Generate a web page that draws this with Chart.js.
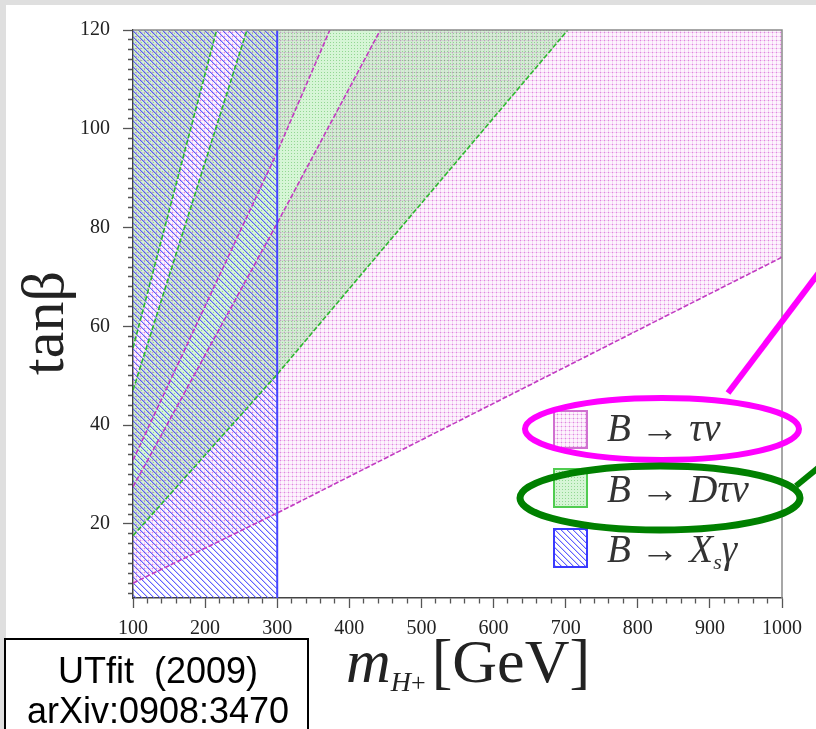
<!DOCTYPE html>
<html>
<head>
<meta charset="utf-8">
<script src="https://cdn.jsdelivr.net/npm/chart.js@4.4.0/dist/chart.umd.min.js"></script>
<style>
  html, body { margin: 0; padding: 0; }
  body { width: 816px; height: 729px; overflow: hidden; position: relative; background: #dfdfdf; }
  #paper { position: absolute; left: 6px; top: 5px; width: 810px; height: 724px; background: #fff; }
  #c { position: absolute; left: 0; top: 0; }
  #ov { position: absolute; left: 0; top: 0; }
  .sw { position: absolute; left: 553px; }
  text { font-family: 'Liberation Serif', 'Times New Roman', serif; fill: #222; }
</style>
</head>
<body>
<div id="paper"></div>
<canvas id="c" width="816" height="729"></canvas>
<canvas class="sw" id="swPink" width="35" height="39" style="top:410px"></canvas>
<canvas class="sw" id="swGreen" width="35" height="40" style="top:468px"></canvas>
<canvas class="sw" id="swBlue" width="35" height="40" style="top:528px"></canvas>
<svg id="ov" width="816" height="729">
  <text transform="translate(63,323) rotate(-90)" text-anchor="middle" font-size="60">tanβ</text>
  <text x="346" y="682" font-size="62"><tspan font-style="italic">m</tspan><tspan font-size="28" font-style="italic" dy="9">H</tspan><tspan font-size="26">+</tspan><tspan dy="-9" dx="6">[GeV]</tspan></text>

  <text x="607" y="441" font-size="39" style="fill:#333"><tspan font-style="italic">B</tspan> → <tspan font-style="italic">τν</tspan></text>
  <text x="607" y="502" font-size="39" style="fill:#333"><tspan font-style="italic">B</tspan> → <tspan font-style="italic">Dτν</tspan></text>
  <text x="607" y="562" font-size="39" style="fill:#333"><tspan font-style="italic">B</tspan> → <tspan font-style="italic">X</tspan><tspan font-style="italic" font-size="22" dy="7">s</tspan><tspan font-style="italic" dy="-7">γ</tspan></text>

  <ellipse cx="662" cy="429" rx="137" ry="31" fill="none" stroke="#ff00ff" stroke-width="6"/>
  <line x1="728" y1="393" x2="830" y2="258" stroke="#ff00ff" stroke-width="6"/>
  <ellipse cx="660" cy="498" rx="140" ry="32" fill="none" stroke="#008000" stroke-width="7"/>
  <line x1="796" y1="486" x2="830" y2="458" stroke="#008000" stroke-width="6"/>

  <rect x="5" y="639" width="303" height="100" fill="#fff" stroke="#000" stroke-width="2"/>
  <text x="158" y="683" font-size="36" text-anchor="middle" style="font-family:'Liberation Sans',Arial,sans-serif;fill:#000;white-space:pre">UTfit  (2009)</text>
  <text x="158" y="723" font-size="36" text-anchor="middle" style="font-family:'Liberation Sans',Arial,sans-serif;fill:#000">arXiv:0908:3470</text>
</svg>
<script>
// axis ranges and labelled ticks
const massMin = 100, massMax = 1000;
const tanBetaMin = 5, tanBetaMax = 120;
const massLabels = [100, 200, 300, 400, 500, 600, 700, 800, 900, 1000];
const tanBetaLabels = [20, 40, 60, 80, 100, 120];

// B -> tau nu : excluded between low and mid edge, and above high edge
const tauNuLowMass = [100, 300, 1000];
const tauNuLowTanB = [8, 22.2, 74];
const tauNuMidMass = [100, 300, 443, 1000];
const tauNuMidTanB = [27.5, 80.9, 120, 120];
const tauNuHighMass = [100, 300, 373];
const tauNuHighTanB = [32.9, 95.3, 120];

// B -> D tau nu : excluded between low and mid edge, and above high edge
const dTauNuLowMass = [100, 300, 424, 703, 1000];
const dTauNuLowTanB = [17.6, 50.3, 71.8, 120, 120];
const dTauNuMidMass = [100, 258, 1000];
const dTauNuMidTanB = [47.1, 120, 120];
const dTauNuHighMass = [100, 216];
const dTauNuHighTanB = [55.6, 120];

// B -> Xs gamma : excluded below 300 GeV
const xsGammaMass = [100, 300];
const xsGammaTanB = [120, 120];
const xsGammaEdgeMass = [300, 300];
const xsGammaEdgeTanB = [5, 120];

function makePattern(w, h, draw) {
  const c = document.createElement('canvas');
  c.width = w; c.height = h;
  const g = c.getContext('2d');
  draw(g);
  return g.createPattern(c, 'repeat');
}

const pinkPat = makePattern(4, 4, g => {
  g.fillStyle = 'rgba(235,150,235,0.10)';
  g.fillRect(0, 0, 4, 4);
  g.fillStyle = 'rgba(225,120,225,0.26)';
  g.fillRect(0, 0, 4, 1);
  g.fillRect(0, 0, 1, 4);
  g.fillStyle = 'rgba(205,70,205,0.45)';
  g.fillRect(0, 0, 1, 1);
});
const greenPat = makePattern(3, 3, g => {
  g.fillStyle = 'rgba(120,222,120,0.3)';
  g.fillRect(0, 0, 3, 3);
  g.fillStyle = 'rgba(80,185,80,0.5)';
  g.fillRect(0, 0, 1, 1);
});
const bluePat = makePattern(6, 6, g => {
  for (let i = 0; i < 6; i++) {
    g.fillStyle = 'rgba(70,70,255,0.85)';
    g.fillRect(i, i, 1, 1);
    g.fillStyle = 'rgba(70,70,255,0.3)';
    g.fillRect((i + 1) % 6, i, 1, 1);
  }
});

function swatch(id, pat, color) {
  const c = document.getElementById(id);
  const g = c.getContext('2d');
  g.fillStyle = pat;
  g.fillRect(0, 0, c.width, c.height);
  g.strokeStyle = color;
  g.lineWidth = 2;
  g.strokeRect(1, 1, c.width - 2, c.height - 2);
}
swatch('swPink', pinkPat, '#d070d0');
swatch('swGreen', greenPat, '#50cc50');
swatch('swBlue', bluePat, '#3a3aff');

const pts = (xs, ys) => xs.map((x, i) => ({ x: x, y: ys[i] }));
// edges that run along the top frame are only there to close a fill
const hideTop = {
  borderColor: c => (c.p0.parsed.y >= tanBetaMax && c.p1.parsed.y >= tanBetaMax) ? 'rgba(0,0,0,0)' : undefined
};
const pinkLine = '#c23cc2', greenLine = '#2fb82f';
const base = { pointRadius: 0, borderWidth: 1.6, tension: 0, clip: 0, borderDash: [5, 2] };

// fills are painted from the last dataset to the first:
// pink first, then green over it, then the blue hatching on top
const datasets = [
  Object.assign({}, base, { label: 'B→Xsγ', data: pts(xsGammaMass, xsGammaTanB), borderColor: 'rgba(0,0,0,0)', backgroundColor: bluePat, fill: 'start' }),
  Object.assign({}, base, { data: pts(xsGammaEdgeMass, xsGammaEdgeTanB), borderColor: '#4545ff', borderDash: [], borderWidth: 2, fill: false }),
  Object.assign({}, base, { label: 'B→Dτν', data: pts(dTauNuLowMass, dTauNuLowTanB), borderColor: greenLine, backgroundColor: greenPat, fill: 3, segment: hideTop }),
  Object.assign({}, base, { data: pts(dTauNuMidMass, dTauNuMidTanB), borderColor: greenLine, fill: false, segment: hideTop }),
  Object.assign({}, base, { data: pts(dTauNuHighMass, dTauNuHighTanB), borderColor: greenLine, backgroundColor: greenPat, fill: 'end' }),
  Object.assign({}, base, { label: 'B→τν', data: pts(tauNuLowMass, tauNuLowTanB), borderColor: pinkLine, backgroundColor: pinkPat, fill: 6 }),
  Object.assign({}, base, { data: pts(tauNuMidMass, tauNuMidTanB), borderColor: pinkLine, fill: false, segment: hideTop }),
  Object.assign({}, base, { data: pts(tauNuHighMass, tauNuHighTanB), borderColor: pinkLine, backgroundColor: pinkPat, fill: 'end' })
];

const frame = {
  id: 'frame',
  afterDraw(chart) {
    const { ctx, chartArea: a } = chart;
    ctx.save();
    ctx.strokeStyle = '#8a8a8a';
    ctx.lineWidth = 1.5;
    ctx.beginPath();
    ctx.moveTo(a.left, a.top);
    ctx.lineTo(a.right, a.top);
    ctx.lineTo(a.right, a.bottom);
    ctx.stroke();
    ctx.restore();
  }
};

const tickFont = { family: "'Liberation Serif', 'Times New Roman', serif", size: 20 };

new Chart(document.getElementById('c'), {
  type: 'line',
  data: { datasets: datasets },
  plugins: [frame],
  options: {
    responsive: false,
    animation: false,
    devicePixelRatio: 1,
    events: [],
    layout: { padding: { left: 0, top: 30, right: 34, bottom: 91 } },
    plugins: {
      legend: { display: false },
      tooltip: { enabled: false },
      filler: { drawTime: 'beforeDatasetsDraw' }
    },
    scales: {
      x: {
        type: 'linear',
        min: massMin,
        max: massMax,
        afterFit: s => { s.height = 40; },
        border: { color: '#444', width: 1.5 },
        grid: {
          drawOnChartArea: false,
          tickLength: 10,
          tickColor: '#555',
          tickWidth: 1.3,
          tickBorderDash: c => massLabels.includes(c.tick.value) ? [] : [5, 30]
        },
        ticks: {
          stepSize: 20,
          autoSkip: false,
          maxRotation: 0,
          padding: 9,
          color: '#222',
          font: tickFont,
          callback: v => massLabels.includes(v) ? String(v) : ''
        }
      },
      y: {
        type: 'linear',
        min: tanBetaMin,
        max: tanBetaMax,
        afterFit: s => { s.width = 133; },
        border: { color: '#444', width: 1.5 },
        grid: {
          drawOnChartArea: false,
          tickLength: 10,
          tickColor: '#555',
          tickWidth: 1.3,
          tickBorderDash: c => tanBetaLabels.includes(c.tick.value) ? [] : [0, 5, 6, 0]
        },
        ticks: {
          stepSize: 2,
          includeBounds: false,
          autoSkip: false,
          padding: 13,
          color: '#222',
          font: tickFont,
          callback: v => tanBetaLabels.includes(v) ? String(v) : ''
        }
      }
    }
  }
});
</script>
</body>
</html>
